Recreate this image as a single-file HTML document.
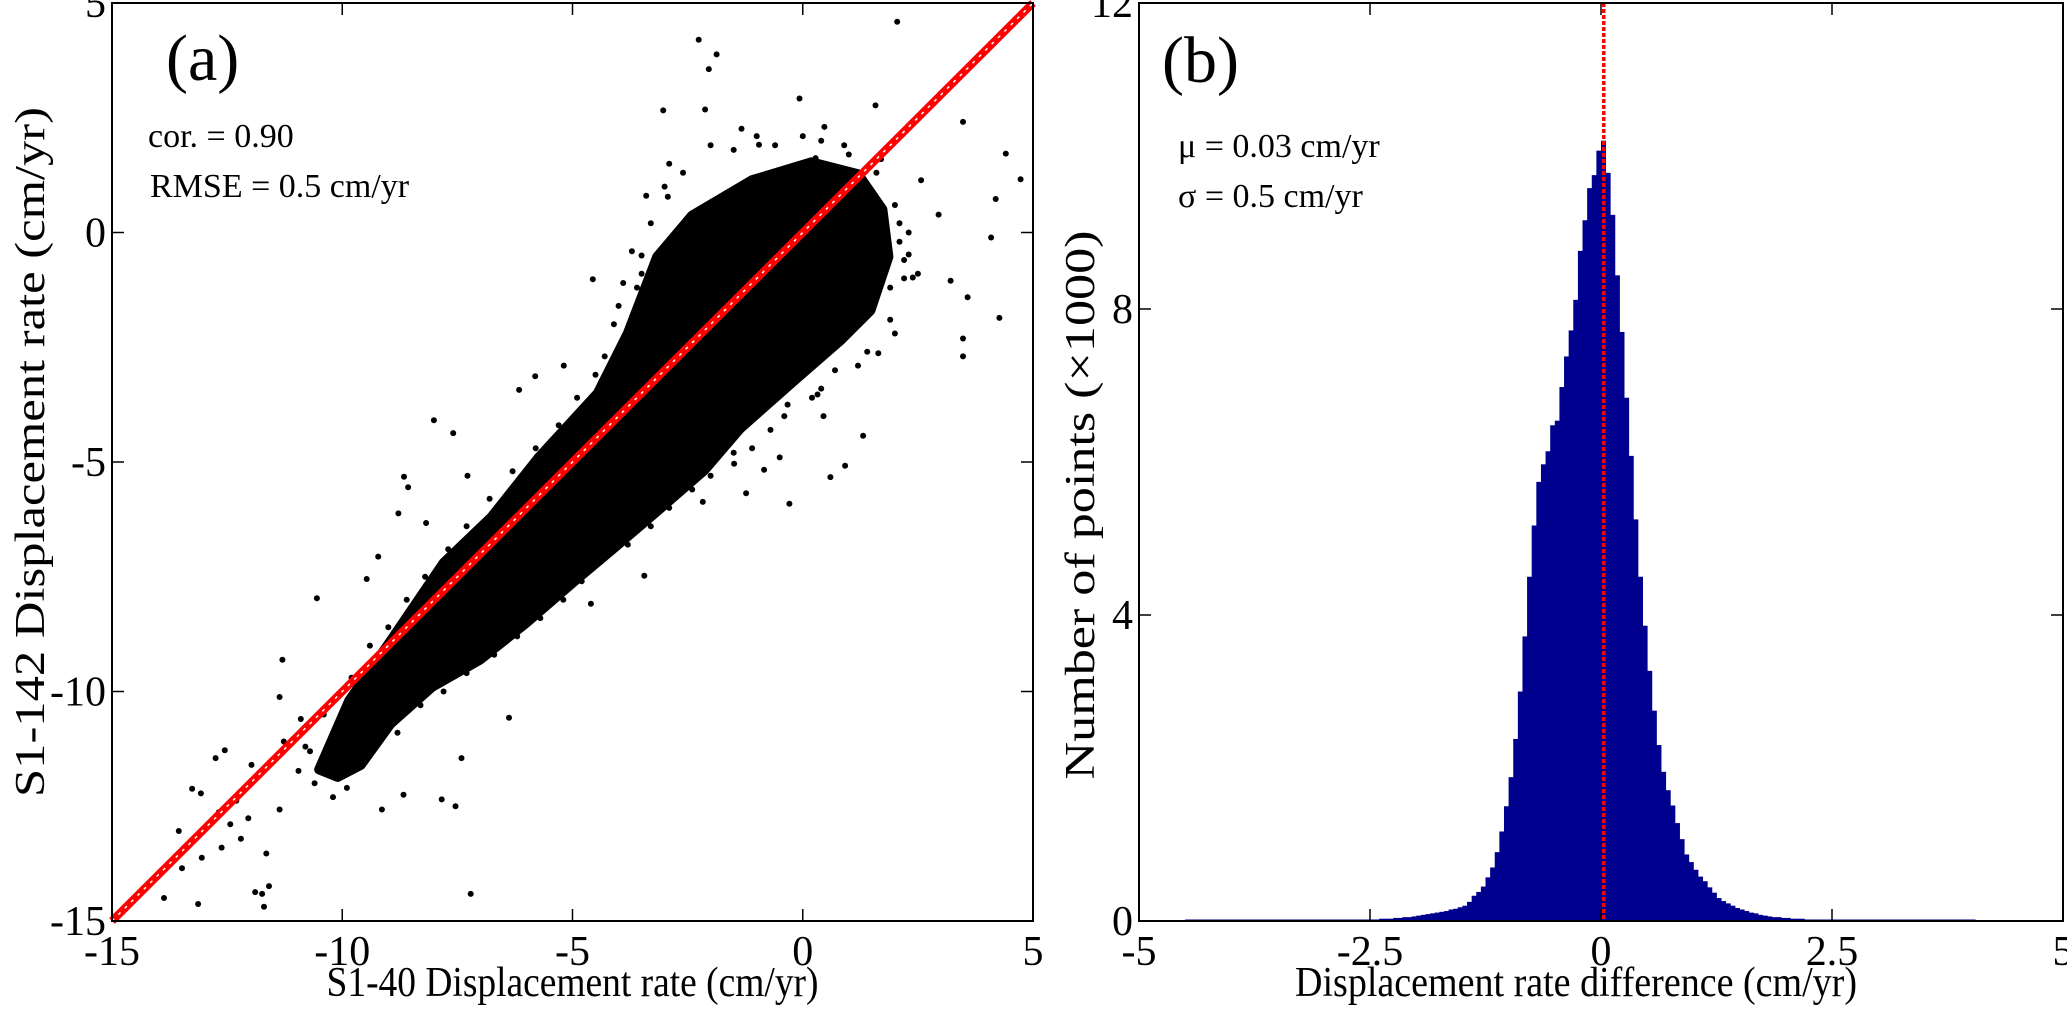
<!DOCTYPE html>
<html><head><meta charset="utf-8">
<style>
html,body{margin:0;padding:0;background:#fff;}
svg{display:block;font-family:"Liberation Serif",serif;}
</style></head>
<body>
<svg id="fig" width="2067" height="1016" viewBox="0 0 2067 1016" xmlns="http://www.w3.org/2000/svg">
<g id="pa"></g>
<g id="pb"></g>
</svg>
<script>
// ---------- Panel (a) data ----------
const aXTicks = [-15, -10, -5, 0, 5];
const aYTicks = [-15, -10, -5, 0, 5];
// dense core outline of the scatter cloud (data units)
const coreX = [-10.5,-9.85,-8.95,-7.8,-6.76,-5.73,-4.45,-3.8,-3.16,-2.4,-1.1,0.19,1.2,1.73,1.86,1.47,0.83,-0.2,-1.36,-2.13,-3.16,-4.06,-4.96,-6.0,-7.0,-8.05,-8.95,-9.6,-10.1];
const coreY = [-11.7,-10.2,-8.9,-7.2,-6.2,-4.9,-3.5,-2.2,-0.53,0.37,1.14,1.53,1.27,0.5,-0.53,-1.7,-2.34,-3.24,-4.27,-5.17,-6.07,-6.84,-7.6,-8.5,-9.3,-9.9,-10.7,-11.6,-11.86];
// scattered outlier points (data units)
const ptX = [-2.26,-1.87,-2.04,-3.03,-2.12,2.05,-0.07,1.58,3.48,4.41,4.73,4.19,4.09,4.27,3.48,3.48,3.58,3.21,2.57,2.95,1.31,0.92,0.6,-0.29,-1.23,-2.17,-3.44,-4.6,-6.38,-7.21,-7.41,-7.54,-7.84,-8.67,-9.14,-10.55,-11.3,-11.36,-12.55,-12.75,-13.26,-13.07,-13.55,-13.13,-13.87,-13.48,-11.65,-11.59,-11.74,-11.89,-11.7,-12.43,-12.2,-11.97,-12.3,-12.68,-12.04,-12.62,-13.05,-11.36,-10.95,-11.27,-9.47,-9.22,-8.78,-8.66,-8.01,-7.59,-6.16,-5.81,-5.19,-4.56,-3.71,-2.93,-1.33,-0.95,0.47,0.28,2.3,2.39,1.64,0.32,-0.33,0.45,-0.84,-1.49,-3.93,-4.7,-5.48,-6.25,-7.28,-8.57,-8.18,-7.28,2.1,2.2,1.9,2.5,-10.9,-10.7,-10.3,-9.9,-4.0,-3.5,-3.3,-2.8,-1.8,-0.5,
 -3.3,-3.5,-3.6,-3.0,-2.6,-1.5,-0.6,0.4,1.0,1.6,2.0,2.1,2.2,1.9,1.4,0.7,0.2,-0.7,-1.5,-2.4,-3.3,-4.3,-5.2,-6.2,-7.3,-8.3,-9.2,-9.9,-10.6,-10.8,-10.4,-9.8,-9.0,-8.2,-7.3,-6.3,-5.3,-4.5,-4.1,-3.9,
 -3.4,-2.9,-2.0,-1.0,0.0,0.9,1.7,2.3,2.0,1.2,0.4,-0.4,-1.1,-2.0,-2.9,-3.8,-4.8,-5.7,-6.7,-7.8,-8.8,-9.6,-10.2,-10.0,-9.4,-8.6,-7.7,-6.8,-5.8,-4.9,-4.3];
const ptY = [4.2,3.88,3.56,2.66,2.68,4.59,2.92,2.77,2.41,1.72,1.16,0.73,-0.11,-1.86,-2.7,-2.31,-1.41,-1.05,1.14,0.39,-4.43,-5.08,-5.33,-5.91,-5.68,-5.87,-7.48,-8.09,-10.57,-14.41,-11.45,-12.5,-12.35,-12.25,-12.57,-7.97,-9.31,-10.12,-11.28,-11.45,-12.12,-12.22,-13.04,-14.63,-14.5,-13.85,-13.53,-14.24,-14.41,-14.37,-14.69,-12.89,-13.21,-11.6,-12.38,-12.63,-12.76,-13.4,-13.62,-12.57,-11.73,-11.09,-7.55,-7.06,-6.12,-5.32,-4.09,-4.37,-3.43,-3.13,-2.9,-1.02,-0.41,0.78,2.26,1.91,2.3,1.62,-0.48,-0.98,-2.63,-3.53,-3.75,-4.0,-5.17,-5.04,-6.45,-7.23,-7.87,-8.64,-8.9,-5.55,-6.33,-5.3,0.2,-0.6,-1.2,-0.9,-10.6,-11.3,-11.5,-10.9,-1.6,-0.9,-2.5,-4.6,-3.9,-4.9,
 0.2,-0.5,-1.2,1.0,1.3,1.8,1.9,2.0,1.7,1.3,0.6,-0.2,-1.0,-1.9,-2.6,-3.0,-3.6,-4.3,-4.8,-5.6,-6.4,-7.1,-8.0,-8.8,-9.6,-10.3,-11.1,-12.1,-12.0,-11.2,-10.5,-9.7,-8.6,-7.5,-6.4,-5.2,-4.2,-3.1,-2.0,-1.1,
 0.8,1.5,1.9,2.1,2.1,1.9,1.6,0.0,-2.2,-2.9,-3.4,-4.0,-4.7,-5.3,-6.0,-6.8,-7.6,-8.4,-9.2,-10.0,-10.9,-11.6,-12.3,-10.0,-9.0,-8.0,-6.9,-5.8,-4.7,-3.6,-2.7];

// ---------- Panel (b) data ----------
const bXTicks = [-5, -2.5, 0, 2.5, 5];
const bYTicks = [0, 4, 8, 12];
const binStart = -4.5;
const binWidth = 0.05;
// counts (x1000) per bin starting at binStart
const binCounts = [0.005,0.005,0.005,0.005,0.005,0.005,0.005,0.005,0.005,0.005,0.006,0.006,0.006,0.006,0.006,0.007,0.007,0.007,0.007,0.008,
 0.008,0.008,0.009,0.009,0.009,0.01,0.01,0.01,0.011,0.011,0.012,0.012,0.013,0.013,0.014,0.014,0.015,0.016,0.017,0.018,
 0.02,0.02,0.03,0.03,0.03,0.04,0.04,0.05,0.05,0.06,0.07,0.08,0.09,0.1,0.11,0.12,0.13,0.15,0.16,
 0.18,0.2,0.25,0.33,0.38,0.45,0.57,0.7,0.9,1.17,1.5,1.88,2.38,3.0,3.72,4.5,5.17,5.74,5.97,6.14,6.48,6.54,6.98,7.38,7.72,8.12,8.76,9.16,9.58,9.75,
 10.07,10.2,9.78,9.23,8.44,7.7,6.84,6.08,5.25,4.5,3.86,3.27,2.75,2.3,1.95,1.71,1.51,1.28,1.07,0.87,0.77,0.67,0.58,0.52,0.44,0.37,0.3,0.26,0.23,0.2,0.17,0.15,0.13,0.11,0.1,0.08,0.07,0.06,0.05,0.05,0.04,0.04,0.03,0.03,0.03,0.02,0.02,
 0.018,0.017,0.016,0.015,0.014,0.013,0.012,0.012,0.011,0.011,0.01,0.01,0.01,0.009,0.009,0.009,0.008,0.008,0.008,0.007,0.007,0.007,0.006,0.006,0.006,0.006,0.005,0.005,0.005,0.005,0.005,0.005,0.005,0.005,0.005];
const meanDiff = 0.03;

const NS = "http://www.w3.org/2000/svg";
function mk(parent, tag, attrs, text){
  const e = document.createElementNS(NS, tag);
  for (const k in attrs) e.setAttribute(k, attrs[k]);
  if (text !== undefined) e.textContent = text;
  parent.appendChild(e); return e;
}

// ---------- Panel (a) ----------
const A = {l:112, r:1033, t:3, b:921, x0:-15, x1:5, y0:-15, y1:5};
const ax = v => A.l + (v - A.x0) / (A.x1 - A.x0) * (A.r - A.l);
const ay = v => A.b - (v - A.y0) / (A.y1 - A.y0) * (A.b - A.t);
const pa = document.getElementById('pa');

let d = '';
for (let i = 0; i < coreX.length; i++) d += (i ? 'L' : 'M') + ax(coreX[i]).toFixed(1) + ',' + ay(coreY[i]).toFixed(1);
const core = mk(pa, 'path', {d: d + 'Z', fill:'#000', stroke:'#000', 'stroke-width':10, 'stroke-linejoin':'round'});


for (let i = 0; i < ptX.length; i++) {
  const c = mk(pa, 'circle', {cx: ax(ptX[i]).toFixed(1), cy: ay(ptY[i]).toFixed(1), r: 3, fill:'#000'});
  
  
}
// 1:1 line
const l1 = mk(pa, 'line', {x1: ax(-15), y1: ay(-15), x2: ax(5), y2: ay(5), stroke:'#f00', 'stroke-width':8});


mk(pa, 'line', {x1: ax(-15), y1: ay(-15), x2: ax(5), y2: ay(5), stroke:'#fff', 'stroke-width':1.5, 'stroke-dasharray':'3 6'});

function frame(g, P, fx, fy, xt, yt, xlab, ylab, name){
  const f = mk(g, 'rect', {x:P.l, y:P.t, width:P.r-P.l, height:P.b-P.t, fill:'none', stroke:'#000', 'stroke-width':2});
  
  
  xt.forEach((v, i) => {
    const x = fx(v);
    mk(g, 'line', {x1:x, y1:P.b, x2:x, y2:P.b-12, stroke:'#000', 'stroke-width':1.5});
    mk(g, 'line', {x1:x, y1:P.t, x2:x, y2:P.t+12, stroke:'#000', 'stroke-width':1.5});
    const t = mk(g, 'text', {x:x, y:P.b+44, 'text-anchor':'middle', 'font-size':42}, xlab[i]);
    
    
  });
  yt.forEach((v, i) => {
    const y = fy(v);
    mk(g, 'line', {x1:P.l, y1:y, x2:P.l+12, y2:y, stroke:'#000', 'stroke-width':1.5});
    mk(g, 'line', {x1:P.r, y1:y, x2:P.r-12, y2:y, stroke:'#000', 'stroke-width':1.5});
    const t = mk(g, 'text', {x:P.l-6, y:y+14, 'text-anchor':'end', 'font-size':42}, ylab[i]);
    
    
  });
}
frame(pa, A, ax, ay, aXTicks, aYTicks, aXTicks.map(String), aYTicks.map(String), 'panel-a');

let t;
t = mk(pa, 'text', {x:(A.l+A.r)/2, y:996, 'text-anchor':'middle', 'font-size':42, textLength:492, lengthAdjust:'spacingAndGlyphs'}, 'S1-40 Displacement rate (cm/yr)');
 
t = mk(pa, 'text', {x:0, y:0, 'text-anchor':'middle', 'font-size':42, textLength:690, lengthAdjust:'spacingAndGlyphs', transform:'translate(44,452) rotate(-90)'}, 'S1-142 Displacement rate (cm/yr)');
 
t = mk(pa, 'text', {x:166, y:80, 'font-size':66}, '(a)');
 
t = mk(pa, 'text', {x:148, y:147, 'font-size':34}, 'cor. = 0.90');
 
t = mk(pa, 'text', {x:150, y:197, 'font-size':34}, 'RMSE = 0.5 cm/yr');
 

// ---------- Panel (b) ----------
const B = {l:1139, r:2063, t:3, b:921, x0:-5, x1:5, y0:0, y1:12};
const bx = v => B.l + (v - B.x0) / (B.x1 - B.x0) * (B.r - B.l);
const by = v => B.b - (v - B.y0) / (B.y1 - B.y0) * (B.b - B.t);
const pb = document.getElementById('pb');
binCounts.forEach((c, i) => {
  const x0 = bx(binStart + i * binWidth), x1 = bx(binStart + (i + 1) * binWidth);
  const h = Math.max(by(0)-by(c), 1.5);
  const r = mk(pb, 'rect', {x:x0.toFixed(2), y:(by(0)-h).toFixed(2), width:(x1-x0+0.4).toFixed(2), height:h.toFixed(2), fill:'#00008f'});
  
  
});
const ml = mk(pb, 'line', {x1:bx(meanDiff), y1:B.t, x2:bx(meanDiff), y2:B.b, stroke:'#f00', 'stroke-width':3.5, 'stroke-dasharray':'4 2'});


frame(pb, B, bx, by, bXTicks, bYTicks, bXTicks.map(String), bYTicks.map(String), 'panel-b');
t = mk(pb, 'text', {x:1576, y:996, 'text-anchor':'middle', 'font-size':42, textLength:562, lengthAdjust:'spacingAndGlyphs'}, 'Displacement rate difference (cm/yr)');
 
t = mk(pb, 'text', {x:0, y:0, 'text-anchor':'middle', 'font-size':42, textLength:549, lengthAdjust:'spacingAndGlyphs', transform:'translate(1094,505) rotate(-90)'}, 'Number of points (×1000)');
 
t = mk(pb, 'text', {x:1162, y:82, 'font-size':66}, '(b)');
 
t = mk(pb, 'text', {x:1178, y:157, 'font-size':34}, 'μ = 0.03 cm/yr');
 
t = mk(pb, 'text', {x:1178, y:207, 'font-size':34}, 'σ = 0.5 cm/yr');
 
</script>
</body></html>
